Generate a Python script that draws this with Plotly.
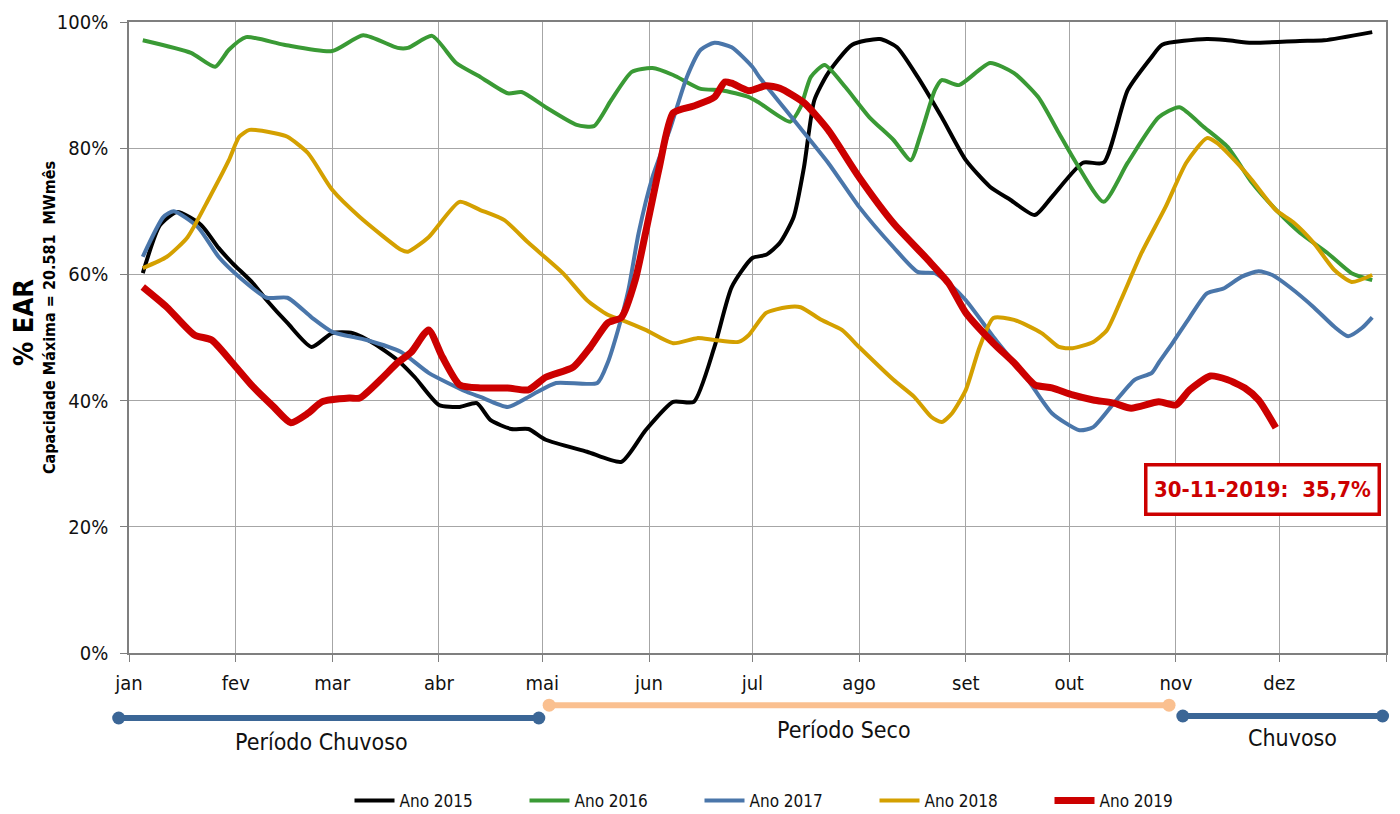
import plotly.graph_objects as go

# --- axis categories -------------------------------------------------------
MONTHS = ["jan", "fev", "mar", "abr", "mai", "jun", "jul", "ago", "set", "out", "nov", "dez"]
MONTH_START = [0, 31, 59, 90, 120, 151, 181, 212, 243, 273, 304, 334]
YEAR_END = 365

# --- stored energy (% EAR), day of year vs. value --------------------------
days_2015 = [4, 9, 14, 21, 26, 30, 36, 40, 46, 53, 59, 65, 71, 78, 83, 90, 96, 101, 105, 111,
             116, 121, 133, 143, 150, 158, 164, 170, 175, 181, 185, 189, 193, 196, 199, 203,
             210, 218, 223, 229, 236, 243, 250, 256, 263, 268, 277, 283, 290, 297, 300, 313,
             319, 326, 340, 347, 361]
ear_2015 = [60.2, 67.8, 69.9, 67.8, 64.2, 61.8, 58.6, 55.9, 52.3, 48.5, 50.7, 50.7, 49.1, 46.4,
            43.7, 39.3, 39.0, 39.6, 36.9, 35.5, 35.5, 33.8, 31.9, 30.3, 35.3, 39.8, 39.8, 48.5,
            58.0, 62.6, 63.1, 65.0, 69.1, 77.0, 87.6, 91.9, 96.4, 97.3, 96.0, 91.3, 84.9, 78.1,
            73.9, 71.8, 69.4, 72.3, 77.7, 77.7, 89.2, 94.5, 96.4, 97.3, 97.1, 96.7, 97.0, 97.1,
            98.4]

days_2016 = [4, 18, 25, 29, 34, 45, 59, 68, 78, 81, 88, 95, 102, 110, 114, 121, 130, 135, 140,
             146, 152, 158, 166, 172, 180, 183, 192, 195, 198, 202, 208, 215, 222, 227, 230,
             234, 236, 241, 250, 257, 264, 270, 275, 283, 290, 299, 305, 312, 319, 326, 334,
             340, 348, 355, 361]
ear_2016 = [97.1, 95.1, 92.9, 95.6, 97.6, 96.4, 95.4, 97.9, 95.9, 95.9, 97.8, 93.5, 91.3, 88.7,
            88.9, 86.5, 83.7, 83.5, 87.6, 92.1, 92.7, 91.6, 89.4, 89.2, 88.1, 87.2, 84.2, 86.5,
            91.3, 93.2, 89.7, 84.9, 81.3, 78.1, 82.4, 89.2, 90.8, 90.0, 93.5, 91.9, 88.1, 82.4,
            77.7, 71.5, 77.7, 84.9, 86.5, 83.4, 80.2, 74.6, 69.7, 66.6, 63.4, 60.2, 59.1]

days_2017 = [4, 10, 13, 20, 26, 32, 40, 46, 53, 59, 69, 79, 87, 98, 102, 110, 117, 124, 136,
             139, 142, 145, 148, 152, 157, 162, 166, 170, 175, 181, 183, 193, 203, 212, 222,
             229, 234, 238, 243, 251, 261, 268, 276, 280, 286, 292, 297, 299, 303, 308, 313,
             318, 323, 328, 332, 337, 344, 350, 354, 358, 361]
ear_2017 = [62.8, 69.1, 70.0, 67.5, 62.8, 59.6, 56.3, 56.3, 53.2, 50.9, 49.6, 47.7, 44.4, 41.4,
            40.6, 39.0, 40.9, 42.8, 42.8, 46.0, 51.2, 57.5, 66.6, 75.4, 82.9, 91.3, 95.6, 96.7,
            96.0, 92.9, 91.3, 84.5, 77.7, 70.7, 64.3, 60.4, 60.2, 58.6, 55.9, 50.1, 43.3, 38.0,
            35.3, 35.8, 39.6, 43.3, 44.4, 46.0, 49.1, 53.2, 57.0, 57.8, 59.6, 60.5, 59.9, 58.0,
            54.8, 51.7, 50.2, 51.5, 53.2]

days_2018 = [4, 11, 17, 23, 29, 32, 35, 42, 46, 52, 59, 67, 79, 81, 87, 96, 102, 109, 116, 126,
             133, 139, 143, 150, 158, 165, 170, 177, 180, 185, 191, 195, 201, 207, 212, 222,
             228, 233, 236, 239, 243, 247, 251, 257, 265, 270, 274, 280, 284, 288, 294, 301,
             307, 313, 316, 321, 326, 333, 338, 344, 350, 355, 361]
ear_2018 = [61.0, 62.8, 65.9, 71.8, 78.1, 81.8, 82.9, 82.4, 81.8, 79.2, 73.4, 69.1, 63.9, 63.6,
            65.9, 71.5, 70.2, 68.6, 65.0, 60.2, 55.9, 53.6, 52.8, 51.2, 49.1, 49.9, 49.6, 49.3,
            50.4, 53.9, 54.8, 54.8, 52.8, 51.2, 48.5, 43.3, 40.6, 37.4, 36.6, 38.0, 41.7, 48.5,
            53.1, 52.8, 50.7, 48.5, 48.3, 49.3, 51.2, 55.9, 63.4, 70.7, 77.7, 81.6, 80.8, 78.1,
            75.0, 70.2, 68.3, 65.0, 60.7, 58.8, 59.9]

days_2019 = [4, 11, 19, 24, 30, 36, 42, 47, 52, 56, 64, 67, 73, 78, 82, 87, 91, 96, 102, 110,
             116, 121, 129, 134, 139, 143, 147, 150, 154, 158, 164, 170, 173, 175, 180, 185,
             189, 196, 203, 212, 222, 232, 238, 243, 251, 257, 263, 268, 274, 280, 286, 291,
             299, 304, 308, 314, 319, 324, 328, 333]
ear_2019 = [58.0, 54.8, 50.4, 49.6, 46.0, 42.2, 39.0, 36.5, 38.0, 39.8, 40.4, 40.4, 43.3, 46.0,
            47.7, 51.2, 46.9, 42.5, 42.0, 42.0, 41.7, 43.7, 45.3, 48.5, 52.3, 53.2, 59.1, 66.6,
            77.0, 85.6, 86.7, 88.1, 90.5, 90.3, 89.1, 89.9, 89.5, 87.2, 82.9, 75.4, 68.1, 62.3,
            58.6, 53.9, 49.1, 46.0, 42.5, 42.0, 40.9, 40.1, 39.6, 38.8, 39.8, 39.3, 41.7, 43.9,
            43.3, 42.0, 40.1, 35.7]
LAST_DATE_2019 = "30-11-2019"

SERIES = [
    ("Ano 2015", days_2015, ear_2015, "#000000", 4),
    ("Ano 2016", days_2016, ear_2016, "#3A9A35", 4),
    ("Ano 2017", days_2017, ear_2017, "#4A76AA", 4),
    ("Ano 2018", days_2018, ear_2018, "#D4A000", 4),
    ("Ano 2019", days_2019, ear_2019, "#CC0000", 7),
]

# --- hydrological periods (day of year) ------------------------------------
period_names = ["Período Chuvoso", "Período Seco", "Chuvoso"]
period_start = [-3, 122, 306]
period_end = [119, 302, 364]
period_colors = ["#3B6696", "#FAC090", "#3B6696"]
period_bar_y = [0.65, 0.81, 0.675]
period_text_y = [0.35, 0.50, 0.40]
period_text_shift = [-7, -15, 10]

# --- geometry ----------------------------------------------------------------
W, H = 1400, 814
ML, MR, MT, MB = 100, 10, 22, 0
PW, PH = W - ML - MR, H - MT - MB
x_dom = [29 / PW, 1286 / PW]
y_dom = [(H - 653) / PH, 1.0]
px_per_day = (x_dom[1] - x_dom[0]) * PW / YEAR_END
x2_range = [-x_dom[0] * PW / px_per_day, YEAR_END + (1 - x_dom[1]) * PW / px_per_day]

NARROW = "Liberation Sans Narrow, Arial Narrow, DejaVu Sans Condensed, sans-serif"
GRID = "#A6A6A6"
FRAME = "#7F7F7F"

fig = go.Figure()

for name, d, v, color, width in SERIES:
    fig.add_trace(go.Scatter(
        x=d, y=v, name=name, mode="lines",
        line=dict(color=color, width=width, shape="spline", smoothing=0.6),
        hoverinfo="skip",
    ))

for name, s, e, c, by, ty, sh in zip(period_names, period_start, period_end, period_colors,
                                     period_bar_y, period_text_y, period_text_shift):
    fig.add_trace(go.Scatter(
        x=[s, e], y=[by, by], mode="lines+markers", xaxis="x2", yaxis="y2",
        line=dict(color=c, width=6), marker=dict(color=c, size=13),
        showlegend=False, hoverinfo="skip", cliponaxis=False,
    ))
    fig.add_annotation(x=(s + e) / 2, y=ty, xref="x2", yref="y2", text=name,
                       xanchor="center", yanchor="middle", xshift=sh,
                       showarrow=False, font=dict(family=NARROW, size=23, color="#111111"))

# last 2019 reading, boxed
last_val = ear_2019[-1]
fig.add_annotation(
    x=(1262 - ML) / PW, y=(H - 490) / PH, xref="paper", yref="paper",
    xanchor="center", yanchor="middle",
    text=f"{LAST_DATE_2019}:  {last_val:.1f}%".replace(".", ","),
    showarrow=False, font=dict(family=NARROW, size=22, color="#CC0000", weight="bold"),
    bordercolor="#CC0000", borderwidth=3.5, borderpad=4, bgcolor="white",
    width=222, height=38,
)

# y-axis titles
fig.add_annotation(x=(23 - ML) / PW, y=(H - 323) / PH, xref="paper", yref="paper",
                   xanchor="center", yanchor="middle",
                   text="% EAR", textangle=-90, showarrow=False,
                   font=dict(family=NARROW, size=27, color="#000000", weight="bold"))
fig.add_annotation(x=(49 - ML) / PW, y=(H - 318) / PH, xref="paper", yref="paper",
                   xanchor="center", yanchor="middle",
                   text="Capacidade Máxima = 20.581  MWmês", textangle=-90, showarrow=False,
                   font=dict(family=NARROW, size=16, color="#000000", weight="bold"))

fig.update_layout(
    width=W, height=H,
    margin=dict(l=ML, r=MR, t=MT, b=MB, autoexpand=False),
    paper_bgcolor="white", plot_bgcolor="white",
    showlegend=True,
    legend=dict(orientation="h", x=787 / W, y=(H - 801) / H,
                xref="container", yref="container",
                xanchor="center", yanchor="middle",
                font=dict(family=NARROW, size=17, color="#111111"),
                entrywidth=120, entrywidthmode="pixels", itemwidth=40),
    xaxis=dict(
        domain=x_dom, range=[0, YEAR_END],
        tickmode="array", tickvals=MONTH_START + [YEAR_END], ticktext=MONTHS + [""],
        showgrid=True, gridcolor=GRID, gridwidth=1,
        showline=True, linecolor=FRAME, linewidth=1.5, mirror=True,
        ticks="outside", ticklen=7, tickcolor=FRAME, ticklabelstandoff=4,
        tickfont=dict(family=NARROW, size=20, color="#111111"),
        zeroline=False, anchor="y",
    ),
    yaxis=dict(
        domain=y_dom, range=[0, 100],
        tickmode="array", tickvals=[0, 20, 40, 60, 80, 100],
        ticktext=["0%", "20%", "40%", "60%", "80%", "100%"],
        showgrid=True, gridcolor=GRID, gridwidth=1,
        showline=True, linecolor=FRAME, linewidth=1.5, mirror=True,
        ticks="outside", ticklen=7, tickcolor=FRAME, ticklabelstandoff=8,
        tickfont=dict(family=NARROW, size=20, color="#111111"),
        zeroline=False, anchor="x",
    ),
    xaxis2=dict(domain=[0, 1], range=x2_range, visible=False, anchor="y2", fixedrange=True),
    yaxis2=dict(domain=[(H - 770) / PH, (H - 690) / PH], range=[0, 1], visible=False,
                anchor="x2", fixedrange=True),
)

fig.write_html("out.html")
